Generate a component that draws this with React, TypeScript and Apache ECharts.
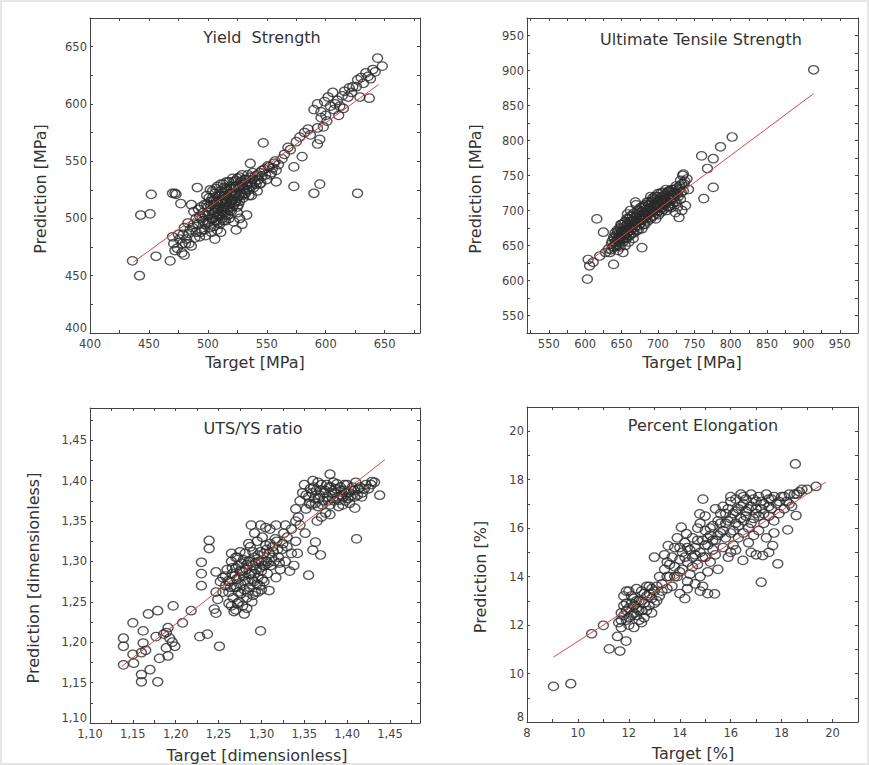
import React, { useEffect, useRef } from "react";
import * as echarts from "echarts";

// ---------- data ----------
const ysPoints: number[][] = [
  [436,463],[442,450],[443,503],[451,504],[452,521],[456,467],[468,463],[470,522],[472,522],[473,521],
  [470,484],[471,478],[475,486],[474,474],[478,470],[480,468],[477,513],[481,478],[484,487],[486,476],
  [480,492],[483,496],[487,492],[489,483],[490,500],[491,527],[492,508],[493,484],[495,490],[488,506],[486,512],
  [495,500],[496,505],[497,512],[498,495],[499,520],[500,510],[500,503],[501,497],[502,515],[502,525],
  [503,507],[504,500],[504,518],[505,512],[505,493],[506,505],[506,522],[507,498],[507,515],[508,508],
  [508,528],[509,502],[509,519],[510,512],[510,495],[511,506],[511,524],[512,516],[512,500],[513,510],
  [513,530],[514,520],[514,505],[515,514],[515,498],[516,526],[516,509],[517,518],[517,503],[518,512],
  [518,532],[519,522],[519,507],[520,516],[520,526],[521,510],[521,535],[522,520],[523,528],[523,514],
  [524,522],[524,533],[525,518],[526,527],[526,512],[527,536],[528,522],[529,530],[530,518],[530,526],
  [531,534],[532,522],[533,529],[534,538],[535,525],[536,531],[537,520],[538,534],[539,527],[540,537],
  [541,530],[542,524],[543,534],[544,540],[545,531],[546,537],[548,543],[550,534],[552,545],[554,540],
  [556,548],[558,542],[498,485],[503,488],[506,482],[508,490],[511,488],[522,497],[524,490],[527,500],
  [529,495],[533,503],[525,505],
  [492,495],[493,502],[494,510],[494,488],[496,498],[497,490],[498,503],[499,512],[500,496],[501,506],
  [501,518],[502,492],[503,500],[503,512],[504,524],[505,505],[505,516],[506,498],[506,510],[507,526],
  [508,503],[508,514],[509,496],[509,508],[510,520],[510,502],[511,514],[511,530],[512,506],[512,522],
  [513,498],[513,516],[514,510],[514,527],[515,503],[515,520],[516,514],[516,532],[517,508],[517,524],
  [518,518],[518,500],[519,528],[519,513],[520,522],[520,506],[521,516],[521,528],[522,512],[522,532],
  [523,522],[524,515],[524,528],[525,510],[525,535],[526,520],[527,528],[527,515],[528,532],[529,520],
  [529,538],[530,528],[531,522],[532,534],[533,525],[534,530],[535,520],[536,536],[537,528],[538,540],
  [540,532],[542,538],[544,530],[546,542],[549,538],[551,546],[553,538],[555,544],[557,550],
  [476,482],[479,486],[482,482],[485,490],[488,495],[490,488],[484,478],[478,478],[472,472],
  [547,566],[536,548],[558,532],[560,547],[563,552],[565,556],[568,562],[570,560],[573,528],[573,545],
  [575,567],[578,571],[580,554],[582,575],[585,578],[587,573],[590,522],[593,565],[595,530],[593,579],
  [595,569],[596,588],[598,580],[600,590],
  [590,595],[593,600],[596,593],[599,602],[602,606],[604,598],[606,610],[607,595],[608,600],[610,603],
  [612,598],[614,607],[616,611],[619,606],[620,614],[622,610],[623,615],[626,615],[627,621],[629,606],
  [630,623],[632,618],[634,627],[636,624],[637,605],[638,622],[640,630],[642,628],[644,640],[648,633],
  [627,522],[601,585],[611,590],[615,596]
];
const ysFitX = [437, 645];
const ysFitY = [462, 617];

const utsPoints: number[][] = [
  [603,602],[604,630],[606,621],[611,626],[616,688],[620,635],[625,669],[628,640],[632,645],[634,640],
  [636,652],[638,648],[639,623],[640,660],[641,655],[642,650],[643,665],[644,658],[645,643],[645,670],
  [646,662],[647,655],[648,675],[649,666],[650,660],[650,680],[651,670],[652,655],[653,676],[654,665],
  [655,684],[656,672],[657,660],[658,680],[659,670],[660,688],[661,676],[662,665],[663,684],[664,674],
  [665,692],[666,680],[667,668],[668,688],[669,712],[670,678],[671,695],[672,685],[673,672],[674,690],
  [675,700],[676,682],[677,693],[678,647],[678,674],[679,705],[680,688],[681,697],[682,680],[683,708],
  [684,692],[685,700],[686,685],[687,712],[688,696],[689,704],[690,720],[690,688],[691,700],[692,713],
  [693,692],[694,706],[695,716],[696,698],[697,688],[698,710],[699,720],[700,703],[701,694],[702,714],
  [703,706],[704,725],[705,698],[706,712],[707,718],[708,702],[709,722],[710,710],[711,716],[712,700],
  [713,726],[714,712],[715,720],[716,706],[717,728],[718,715],[719,722],[720,710],[721,730],[722,718],
  [724,697],[724,725],[725,712],[726,732],[727,705],[728,720],[729,690],[730,735],[731,743],[732,726],
  [733,700],[734,750],[735,752],[736,738],[738,707],[740,745],[742,730],[760,778],[763,717],[768,760],
  [776,774],[776,733],[786,791],[802,805],[914,901],
  [648,648],[655,650],[660,655],[652,640],[666,660],[658,695],[662,700],[670,708],
  [636,644],[637,656],[639,662],[640,648],[641,668],[643,652],[644,672],[645,660],[646,650],[647,668],
  [648,662],[649,680],[650,670],[651,658],[652,666],[653,682],[654,672],[655,660],[656,678],[657,688],
  [658,668],[659,676],[660,664],[661,684],[662,692],[663,672],[664,680],[665,668],[666,686],[667,696],
  [668,676],[669,684],[670,692],[671,672],[672,700],[673,684],[674,678],[675,692],[676,704],[677,686],
  [678,698],[679,690],[680,680],[681,706],[682,694],[683,688],[684,702],[685,712],[686,694],[687,700],
  [688,708],[689,690],[690,702],[691,712],[692,698],[693,718],[694,700],[695,708],[696,720],[697,704],
  [698,696],[699,712],[700,724],[701,708],[702,700],[703,716],[704,710],[705,720],[706,704],[707,726],
  [708,714],[709,708],[710,722],[711,730],[712,712],[713,718],[714,706],[715,728],[716,716],[717,722],
  [718,704],[719,730],[720,718],[722,726],[723,712],[725,735],[727,724],[729,730],[731,716],[733,738],
  [735,728],[737,742]
];
const utsFitX = [603, 914];
const utsFitY = [626, 867];

const ratioPoints: number[][] = [
  [1.139,1.172],[1.139,1.205],[1.139,1.195],[1.150,1.224],[1.150,1.185],[1.151,1.174],[1.160,1.160],
  [1.160,1.151],[1.162,1.214],[1.162,1.199],[1.160,1.187],[1.170,1.166],[1.168,1.235],[1.179,1.239],
  [1.179,1.151],[1.177,1.207],[1.181,1.180],[1.189,1.212],[1.191,1.218],[1.189,1.193],[1.191,1.183],
  [1.199,1.195],[1.197,1.245],[1.208,1.224],[1.218,1.239],[1.165,1.190],[1.193,1.205],[1.196,1.200],[1.186,1.210],
  [1.230,1.299],[1.230,1.285],[1.230,1.270],[1.228,1.207],[1.237,1.210],[1.239,1.326],[1.239,1.316],
  [1.251,1.195],[1.245,1.241],[1.247,1.236],[1.247,1.287],[1.247,1.262],[1.249,1.253],[1.299,1.214],
  [1.309,1.264],[1.288,1.345],[1.299,1.345],[1.317,1.345],[1.355,1.283],[1.369,1.308],[1.360,1.314],
  [1.363,1.324],[1.351,1.335],[1.411,1.328],[1.409,1.366],[1.438,1.382],[1.429,1.399],[1.380,1.408],
  [1.255,1.280],[1.258,1.270],[1.260,1.290],[1.262,1.262],[1.263,1.275],[1.265,1.300],[1.266,1.285],
  [1.267,1.255],[1.268,1.268],[1.270,1.292],[1.270,1.240],[1.271,1.278],[1.272,1.305],[1.273,1.262],
  [1.274,1.250],[1.275,1.288],[1.276,1.272],[1.277,1.298],[1.278,1.245],[1.279,1.282],[1.280,1.265],
  [1.281,1.310],[1.282,1.290],[1.283,1.255],[1.284,1.275],[1.285,1.300],[1.286,1.268],[1.287,1.318],
  [1.288,1.285],[1.289,1.250],[1.290,1.295],[1.291,1.275],[1.292,1.305],[1.293,1.262],[1.294,1.290],
  [1.295,1.325],[1.296,1.280],[1.297,1.300],[1.298,1.270],[1.299,1.312],[1.300,1.288],[1.301,1.330],
  [1.302,1.295],[1.303,1.275],[1.305,1.320],[1.306,1.300],[1.307,1.285],[1.309,1.310],[1.310,1.340],
  [1.311,1.295],[1.313,1.318],[1.315,1.300],[1.317,1.280],[1.318,1.325],[1.320,1.305],[1.322,1.290],
  [1.324,1.315],[1.326,1.335],[1.328,1.300],[1.330,1.318],[1.333,1.288],[1.335,1.310],[1.338,1.295],
  [1.340,1.325],[1.280,1.235],[1.268,1.238],[1.262,1.248],[1.255,1.262],[1.252,1.275],[1.275,1.312],
  [1.285,1.322],[1.292,1.335],[1.305,1.342],
  [1.258,1.282],[1.261,1.276],[1.264,1.268],[1.266,1.292],[1.269,1.282],[1.271,1.268],[1.273,1.295],
  [1.274,1.280],[1.276,1.260],[1.278,1.288],[1.279,1.302],[1.281,1.276],[1.283,1.296],[1.284,1.262],
  [1.286,1.284],[1.287,1.300],[1.289,1.278],[1.290,1.312],[1.292,1.285],[1.293,1.298],[1.295,1.272],
  [1.296,1.308],[1.298,1.292],[1.300,1.300],[1.301,1.278],[1.303,1.310],[1.304,1.295],[1.306,1.315],
  [1.308,1.298],[1.310,1.322],[1.312,1.305],[1.314,1.312],[1.316,1.328],[1.319,1.315],[1.321,1.298],
  [1.325,1.322],[1.265,1.245],[1.272,1.248],[1.283,1.242],[1.290,1.258],[1.296,1.262],[1.300,1.265],
  [1.265,1.310],[1.270,1.305],
  [1.330,1.330],[1.335,1.340],[1.340,1.350],[1.345,1.345],[1.328,1.345],[1.342,1.310],
  [1.345,1.375],[1.348,1.385],[1.350,1.395],[1.352,1.365],[1.355,1.380],[1.357,1.390],[1.358,1.370],
  [1.360,1.400],[1.362,1.378],[1.364,1.388],[1.366,1.368],[1.368,1.382],[1.370,1.395],[1.372,1.375],
  [1.374,1.388],[1.375,1.360],[1.377,1.380],[1.379,1.392],[1.380,1.370],[1.382,1.385],[1.384,1.398],
  [1.385,1.375],[1.387,1.390],[1.389,1.380],[1.390,1.368],[1.392,1.392],[1.394,1.382],[1.396,1.388],
  [1.398,1.375],[1.400,1.395],[1.402,1.385],[1.404,1.380],[1.406,1.392],[1.408,1.388],[1.410,1.398],
  [1.412,1.382],[1.415,1.392],[1.418,1.385],[1.422,1.395],[1.425,1.390],[1.370,1.355],[1.365,1.350],
  [1.380,1.358],[1.340,1.365],[1.343,1.355],[1.395,1.370],[1.403,1.372],
  [1.352,1.382],[1.356,1.372],[1.359,1.385],[1.361,1.392],[1.363,1.372],[1.366,1.398],[1.367,1.378],
  [1.369,1.388],[1.371,1.370],[1.373,1.385],[1.376,1.395],[1.378,1.375],[1.381,1.392],[1.383,1.378],
  [1.386,1.385],[1.388,1.396],[1.391,1.376],[1.393,1.388],[1.395,1.380],[1.397,1.395],[1.399,1.385],
  [1.401,1.378],[1.405,1.388],[1.409,1.380],[1.413,1.390],[1.417,1.380],[1.420,1.390],[1.428,1.395],
  [1.432,1.398]
];
const ratioFitX = [1.137, 1.444];
const ratioFitY = [1.17, 1.426];

const elongPoints: number[][] = [
  [9.04,9.47],[9.72,9.58],[10.54,11.64],[11.0,11.99],[11.23,11.02],[11.65,10.93],[11.55,11.53],[11.89,11.34],
  [11.6,12.1],[11.7,12.5],[11.7,11.9],[11.8,12.8],[11.8,13.2],[11.9,12.2],[11.9,12.6],[12.0,13.4],[12.0,12.0],
  [12.1,12.9],[12.1,12.4],[12.2,13.1],[12.2,11.9],[12.3,12.7],[12.3,13.5],[12.4,12.2],[12.4,13.0],[12.5,12.6],
  [12.5,13.4],[12.6,12.9],[12.6,12.3],[12.7,13.2],[12.7,13.6],[12.8,12.8],[12.9,13.1],[12.9,12.5],[13.0,13.4],
  [13.0,12.9],[13.1,13.6],[13.2,13.2],[11.9,13.4],[12.2,12.5],[12.5,12.1],[12.8,13.6],[13.0,14.8],
  [13.2,14.0],[13.3,13.7],[13.4,14.3],[13.5,13.5],[13.5,14.6],[13.54,15.28],[13.6,14.0],[13.7,14.8],[13.7,13.6],
  [13.8,14.4],[13.8,15.2],[13.9,14.0],[13.9,15.6],[14.0,14.7],[14.0,13.3],[14.06,16.04],[14.1,15.0],[14.1,14.3],
  [14.2,13.09],[14.2,15.4],[14.26,15.77],[14.3,14.6],[14.3,13.8],[14.4,15.1],[14.4,14.1],[14.5,15.6],[14.5,14.8],
  [14.6,13.7],[14.6,15.2],[14.7,14.5],[14.7,16.0],[14.78,16.59],[14.8,15.0],[14.8,14.0],[14.9,15.5],[14.91,17.2],
  [14.9,13.6],[15.0,14.8],[15.0,15.9],[15.1,15.3],[15.1,14.2],[15.2,15.7],[15.2,14.6],[15.3,15.1],[15.37,13.29],
  [15.3,16.1],[15.4,14.9],[15.4,15.5],[15.5,16.3],[15.5,14.3],[14.8,16.2],[15.0,16.5],[13.4,14.9],
  [15.6,15.8],[15.6,16.6],[15.7,15.2],[15.7,16.9],[15.8,16.2],[15.8,15.6],[15.9,16.8],[15.9,14.8],[16.0,16.4],
  [16.0,17.1],[16.1,15.9],[16.1,15.3],[16.2,16.7],[16.2,17.2],[16.3,16.1],[16.3,15.6],[16.4,16.9],[16.4,17.4],
  [16.48,14.67],[16.5,16.3],[16.5,15.8],[16.6,16.7],[16.6,17.2],[16.7,16.0],[16.7,15.4],[16.8,16.9],[16.8,17.4],
  [16.9,16.4],[16.9,15.7],[17.0,17.1],[17.0,16.6],[17.1,15.9],[17.1,17.3],[17.2,16.8],[17.2,13.77],[17.26,14.87],
  [17.3,16.2],[17.3,17.0],[17.4,15.6],[17.4,17.4],[17.5,16.5],[17.5,16.9],[17.6,17.2],[17.65,15.28],[17.7,16.3],
  [17.8,17.0],[17.85,14.53],[17.9,16.6],[18.0,17.3],[18.1,16.8],[18.24,15.93],[18.2,17.1],[18.3,17.4],[18.4,16.9],
  [18.54,18.65],[18.5,17.4],[18.57,16.52],[18.7,17.5],[19.0,17.6],[19.35,17.72],[17.0,14.9],[16.0,15.0],[17.5,15.0],
  [11.7,12.2],[11.8,12.4],[11.9,12.9],[12.0,12.3],[12.0,12.7],[12.1,13.2],[12.2,12.8],[12.3,12.4],[12.3,13.0],
  [12.4,12.6],[12.5,13.0],[12.6,13.3],[12.7,12.6],[12.8,13.3],[12.9,13.5],[13.1,13.0],[13.3,13.4],[13.5,14.0],
  [13.6,14.5],[13.8,14.0],[14.0,14.2],[14.0,15.2],[14.2,14.8],[14.3,15.2],[14.5,14.4],[14.6,14.9],[14.7,15.5],
  [14.9,14.8],[15.0,15.3],[15.1,15.6],[15.2,16.0],[15.3,15.5],[15.5,15.7],[15.6,16.2],[15.7,15.9],[15.8,16.6],
  [15.9,16.3],[16.0,15.8],[16.1,16.6],[16.2,16.2],[16.3,16.8],[16.4,16.4],[16.5,17.0],[16.6,16.5],[16.7,16.8],
  [16.8,16.2],[16.9,17.2],[17.0,16.8],[17.1,16.5],[17.2,17.1],[17.3,16.6],[17.5,17.2],[17.6,16.8],[17.7,17.3],
  [17.9,17.1],[18.1,17.3],[18.3,17.0],[18.6,17.4],[18.8,17.6],[16.0,17.3],[16.5,17.3],[15.4,16.8],[14.3,13.5],
  [14.8,13.4],[15.1,13.3],[16.2,15.1],[16.8,15.0],[17.7,15.8]
];
const elongFitX = [9.04, 19.74];
const elongFitY = [10.68, 17.9];

const panelTitles = ["Yield  Strength", "Ultimate Tensile Strength", "UTS/YS ratio", "Percent Elongation"];
const xNames = ["Target [MPa]", "Target [MPa]", "Target [dimensionless]", "Target [%]"];
const yNames = ["Prediction [MPa]", "Prediction [MPa]", "Prediction [dimensionless]", "Prediction [%]"];

// axis ranges: [min, max, tickStep, labelStep]
const xRanges = [[400, 680, 25, 50], [520, 975, 25, 50], [1.1, 1.485, 0.025, 0.05], [8, 21, 1, 2]];
const yRanges = [[400, 675, 25, 50], [525, 975, 25, 50], [1.1, 1.49, 0.025, 0.05], [8, 21, 1, 2]];
// tick values for the UTS target axis (its range does not start on a tick)
const utsXTicks = [525, 550, 575, 600, 625, 650, 675, 700, 725, 750, 775, 800, 825, 850, 875, 900, 925, 950, 975];
const utsXLabels = [550, 600, 650, 700, 750, 800, 850, 900, 950];

// ---------- layout ----------
const grids = [
  { left: 90, top: 18, width: 330, height: 315 },
  { left: 527, top: 18, width: 331, height: 315 },
  { left: 90, top: 408, width: 330, height: 315 },
  { left: 527, top: 407, width: 331, height: 315 },
];
const titlePos = [[262, 37], [701, 39], [253, 428], [703, 425]];
const xNamePos = [[255, 362], [692, 362], [257, 755], [693, 753]];
const yNamePos = [[40, 189], [475, 189], [33, 578], [480, 577]];

const FONT = '"DejaVu Sans", "Liberation Sans", Arial, sans-serif';
const AX = "#444";

function fmt(panel: number, v: number, step: number): string {
  const r = v / step;
  if (Math.abs(r - Math.round(r)) > 1e-6) return "";
  if (panel === 2) return v.toFixed(2).replace(".", ",");
  return String(Math.round(v));
}

export default function App() {
  const ref = useRef<HTMLDivElement>(null);
  useEffect(() => {
    if (!ref.current) return;
    const chart = echarts.init(ref.current, null, { renderer: "svg" });
    const allPoints = [ysPoints, utsPoints, ratioPoints, elongPoints];
    const fits = [
      [ysFitX, ysFitY], [utsFitX, utsFitY], [ratioFitX, ratioFitY], [elongFitX, elongFitY],
    ];
    const xAxis: any[] = [];
    const yAxis: any[] = [];
    for (let side = 0; side < 2; side++) {
      for (let i = 0; i < 4; i++) {
        const xr = xRanges[i];
        const yr = yRanges[i];
        const xa: any = {
          type: "value", gridIndex: i, position: side === 0 ? "bottom" : "top",
          min: xr[0], max: xr[1],
          axisLine: { show: true, onZero: false, lineStyle: { color: AX, width: 1 } },
          axisTick: { show: true, inside: true, length: 3, lineStyle: { color: AX } },
          splitLine: { show: false },
          axisLabel: {
            show: side === 0, interval: 0, margin: 5, color: "#444", fontSize: 11.5, fontFamily: FONT,
            showMinLabel: true, showMaxLabel: true,
            formatter: (v: number) => fmt(i, v, xr[3]),
          },
        };
        if (i === 1) {
          xa.axisTick.customValues = utsXTicks;
          xa.axisLabel.customValues = utsXLabels;
        } else {
          xa.interval = xr[2];
        }
        xAxis.push(xa);
        const yMin = yr[0];
        yAxis.push({
          type: "value", gridIndex: i, position: side === 0 ? "left" : "right",
          min: yr[0], max: yr[1], interval: yr[2],
          axisLine: { show: true, onZero: false, lineStyle: { color: AX, width: 1 } },
          axisTick: { show: true, inside: true, length: 3, lineStyle: { color: AX } },
          splitLine: { show: false },
          axisLabel: {
            show: side === 0, interval: 0, margin: 3, color: "#444", fontSize: 11.5, fontFamily: FONT,
            showMinLabel: true, showMaxLabel: true,
            formatter: (v: number) => {
              const s = fmt(i, v, yr[3]);
              if (s && Math.abs(v - yMin) < 1e-9) return `{lo|${s}}`;
              return s;
            },
            rich: {
              lo: { padding: [0, 0, 10, 0], color: "#444", fontSize: 11.5, fontFamily: FONT },
            },
          },
        });
      }
    }
    const series: any[] = [];
    for (let i = 0; i < 4; i++) {
      series.push({
        type: "scatter", xAxisIndex: i, yAxisIndex: i,
        data: allPoints[i],
        symbol: "path://M0,4a5,4 0 1,0 10,0a5,4 0 1,0 -10,0z",
        symbolSize: [10, 8.5],
        itemStyle: { color: "rgba(0,0,0,0)", borderColor: "#2a2a2a", borderWidth: 1.35 },
        z: 2,
      });
      const fx = fits[i][0];
      const fy = fits[i][1];
      series.push({
        type: "line", xAxisIndex: i, yAxisIndex: i,
        data: fx.map((x, k) => [x, fy[k]]),
        symbol: "none",
        lineStyle: { color: "#d24a4a", width: 1 },
        z: 3,
      });
    }
    const graphic: any[] = [
      {
        type: "rect", shape: { x: 0, y: 0, width: 869, height: 765 }, silent: true, z: -10,
        style: { fill: "none", stroke: "#e6e6e6", lineWidth: 4 },
      },
    ];
    for (let i = 0; i < 4; i++) {
      graphic.push({
        type: "text", x: titlePos[i][0], y: titlePos[i][1],
        style: { text: panelTitles[i], fill: "#333", font: `16px ${FONT}`, align: "center", verticalAlign: "middle" },
      });
      graphic.push({
        type: "text", x: xNamePos[i][0], y: xNamePos[i][1],
        style: { text: xNames[i], fill: "#333", font: `16px ${FONT}`, align: "center", verticalAlign: "middle" },
      });
      graphic.push({
        type: "text", x: yNamePos[i][0], y: yNamePos[i][1], rotation: Math.PI / 2,
        style: { text: yNames[i], fill: "#333", font: `16px ${FONT}`, align: "center", verticalAlign: "middle" },
      });
    }
    chart.setOption({
      animation: false,
      backgroundColor: "#ffffff",
      grid: grids.map((g) => ({ ...g, containLabel: false })),
      xAxis,
      yAxis,
      series,
      graphic,
    });
    return () => chart.dispose();
  }, []);
  return (
    <div
      ref={ref}
      style={{ position: "fixed", left: 0, top: 0, width: 869, height: 765, background: "#fff" }}
    />
  );
}
